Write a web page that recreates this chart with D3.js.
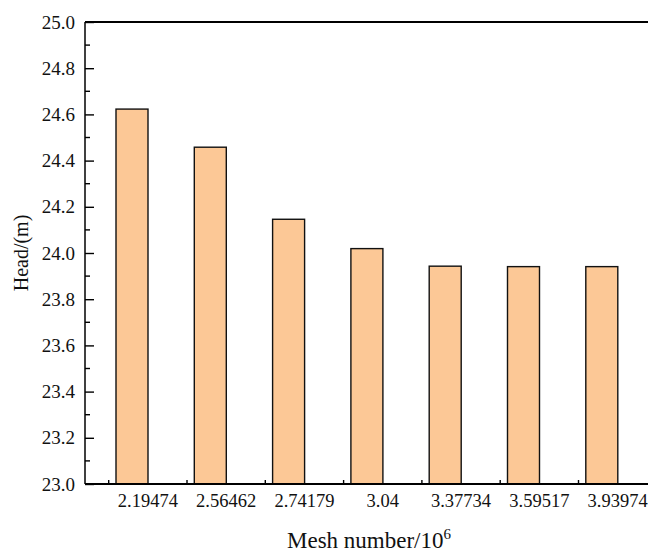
<!DOCTYPE html>
<html>
<head>
<meta charset="utf-8">
<script src="https://cdn.jsdelivr.net/npm/d3@7"></script>
<style>
  body { margin: 0; background: #fff; }
  svg { font-family: "Liberation Serif", "Times New Roman", serif; }
</style>
</head>
<body>
<svg width="648" height="554"></svg>
<script>
const categories = ['2.19474', '2.56462', '2.74179', '3.04', '3.37734', '3.59517', '3.93974']
const head = [24.623, 24.458, 24.146, 24.019, 23.943, 23.941, 23.941]
const yTicks = [23.0, 23.2, 23.4, 23.6, 23.8, 24.0, 24.2, 24.4, 24.6, 24.8, 25.0]

const svg = d3.select('svg')
const plot = { left: 85, top: 22, bottom: 484, right: 660 }

const x = d3.scaleBand().domain(categories).range([108.7, 656.8]).padding(0)
const y = d3.scaleLinear().domain([23, 25]).range([plot.bottom, plot.top])

const barW = 32
const barOff = 7.3 // bars sit left of the label centre, like the original

svg.append('g').selectAll('rect')
  .data(head)
  .join('rect')
  .attr('x', (d, i) => x(categories[i]) + barOff)
  .attr('y', d => y(d))
  .attr('width', barW)
  .attr('height', d => y(23) - y(d))
  .attr('fill', '#fcc896')
  .attr('stroke', '#111')
  .attr('stroke-width', 1.4)

// left axis, ticks pointing in
const yAxis = svg.append('g')
  .attr('transform', `translate(${plot.left},0)`)
  .call(d3.axisRight(y).tickValues(yTicks).tickSize(9).tickFormat(''))
yAxis.select('.domain').remove()
yAxis.selectAll('line').attr('stroke', '#000').attr('stroke-width', 1.4)

const yMinor = d3.range(0, yTicks.length - 1).map(i => (yTicks[i] + yTicks[i + 1]) / 2)
svg.append('g').selectAll('line')
  .data(yMinor)
  .join('line')
  .attr('x1', plot.left).attr('x2', plot.left + 5)
  .attr('y1', d => y(d)).attr('y2', d => y(d))
  .attr('stroke', '#000').attr('stroke-width', 1.4)

svg.append('g').selectAll('text')
  .data(yTicks)
  .join('text')
  .attr('x', plot.left - 10)
  .attr('y', d => y(d))
  .attr('dy', '0.35em')
  .attr('text-anchor', 'end')
  .attr('font-size', 19)
  .attr('fill', '#111')
  .text(d => d.toFixed(1))

// bottom axis: small inward ticks at category boundaries
svg.append('g').selectAll('line')
  .data(categories)
  .join('line')
  .attr('x1', d => x(d)).attr('x2', d => x(d))
  .attr('y1', plot.bottom).attr('y2', plot.bottom - 4)
  .attr('stroke', '#000').attr('stroke-width', 1.4)

svg.append('g').selectAll('text')
  .data(categories)
  .join('text')
  .attr('x', d => x(d) + x.bandwidth() / 2)
  .attr('y', 507)
  .attr('text-anchor', 'middle')
  .attr('font-size', 18.5)
  .attr('fill', '#111')
  .text(d => d)

// frame lines
svg.append('line').attr('x1', plot.left).attr('x2', plot.left).attr('y1', plot.top).attr('y2', plot.bottom)
  .attr('stroke', '#000').attr('stroke-width', 1.5)
svg.append('line').attr('x1', plot.left).attr('x2', plot.right).attr('y1', plot.bottom).attr('y2', plot.bottom)
  .attr('stroke', '#000').attr('stroke-width', 1.8)
svg.append('line').attr('x1', plot.left).attr('x2', plot.right).attr('y1', plot.top).attr('y2', plot.top)
  .attr('stroke', '#000').attr('stroke-width', 1.8)

// titles
svg.append('text')
  .attr('transform', `translate(28,${(plot.top + plot.bottom) / 2}) rotate(-90)`)
  .attr('text-anchor', 'middle')
  .attr('font-size', 20)
  .attr('fill', '#111')
  .text('Head/(m)')

const xt = svg.append('text')
  .attr('x', 287)
  .attr('y', 548)
  .attr('font-size', 23)
  .attr('fill', '#111')
xt.append('tspan').text('Mesh number/10')
xt.append('tspan').attr('font-size', 15).attr('dy', -9).text('6')
</script>
</body>
</html>
